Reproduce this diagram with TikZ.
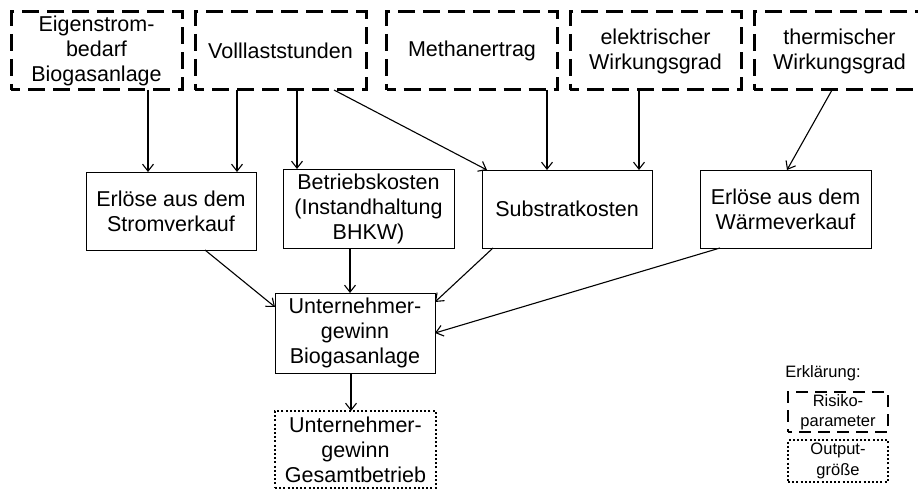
\documentclass[tikz,border=0pt]{standalone}
\usepackage{fontspec}
\setmainfont{Liberation Sans}
\usetikzlibrary{arrows.meta}
\begin{document}
\begin{tikzpicture}[x=1pt,y=-1pt,
  box/.style={draw, line width=0.9pt, rectangle, inner sep=0pt, outer sep=0pt,
    align=center, font=\fontsize{21.5}{25}\selectfont},
  riskbox/.style={box, line width=3pt, dash pattern=on 17pt off 8pt, dash phase=8pt},
  outbox/.style={box, line width=2.4pt, dash pattern=on 2pt off 2.2pt},
  legrisk/.style={riskbox, line width=2.6pt, dash pattern=on 12pt off 7pt, font=\fontsize{16.5}{20.5}\selectfont},
  legout/.style={outbox, font=\fontsize{16.5}{20.5}\selectfont},
  arr/.style={draw, line width=1.1pt, -{Straight Barb[length=7pt,width=11pt]}}
]
\useasboundingbox (0,0) rectangle (918,489);

% risk parameters (top row)
\node[riskbox, minimum width=171pt, minimum height=78pt] (eig)   at (96.5,51)  {Eigenstrom-\\bedarf\\Biogasanlage};
\node[riskbox, minimum width=171pt, minimum height=78pt] (voll)  at (280.5,51) {Volllaststunden};
\node[riskbox, minimum width=171pt, minimum height=78pt] (meth)  at (472,51)   {Methanertrag};
\node[riskbox, minimum width=171pt, minimum height=78pt] (elek)  at (655.5,51) {elektrischer\\Wirkungsgrad};
\node[riskbox, minimum width=171pt, minimum height=78pt] (therm) at (839.5,51) {thermischer\\Wirkungsgrad};

% intermediate quantities
\node[box, minimum width=170pt, minimum height=78pt] (strom)  at (171,211)   {Erlöse aus dem\\Stromverkauf};
\node[box, minimum width=171pt, minimum height=79pt] (betr)   at (368.5,208.5) {Betriebskosten\\(Instandhaltung\\BHKW)};
\node[box, minimum width=170pt, minimum height=78pt] (subst)  at (567,209)   {Substratkosten};
\node[box, minimum width=171pt, minimum height=78pt] (waerme) at (785.5,209) {Erlöse aus dem\\Wärmeverkauf};

% profit
\node[box, minimum width=160pt, minimum height=80pt] (ugb) at (355,333) {Unternehmer-\\gewinn\\Biogasanlage};
\node[outbox, minimum width=161pt, minimum height=77pt] (ugg) at (355.5,449.5) {Unternehmer-\\gewinn\\Gesamtbetrieb};

% legend
\node[font=\fontsize{16.5}{20.5}\selectfont] (legtitle) at (823,373) {Erklärung:};
\node[legrisk, minimum width=100pt, minimum height=40pt] (legr) at (838,412) {Risiko-\\parameter};
\node[legout, minimum width=100pt, minimum height=42pt] (lego) at (838,461) {Output-\\größe};

% influences
\draw[arr] ([xshift=51.5pt]eig.south)  -- ([xshift=-23pt]strom.north);
\draw[arr] ([xshift=-43.5pt]voll.south) -- ([xshift=66pt]strom.north);
\draw[arr] ([xshift=16.5pt]voll.south)  -- ([xshift=-71.5pt]betr.north);
\draw[arr] ([xshift=53.5pt]voll.south)  -- ([xshift=-80pt]subst.north);
\draw[arr] ([xshift=75pt]meth.south)    -- ([xshift=-20pt]subst.north);
\draw[arr] ([xshift=-16.5pt]elek.south) -- ([xshift=72pt]subst.north);
\draw[arr] ([xshift=-7.5pt]therm.south) -- ([xshift=1.5pt]waerme.north);

\draw[arr] ([xshift=34pt]strom.south)   -- ([yshift=26pt]ugb.west);
\draw[arr] ([xshift=-18.5pt]betr.south) -- ([xshift=-5pt]ugb.north);
\draw[arr] ([xshift=-74pt]subst.south)  -- ([yshift=31pt]ugb.east);
\draw[arr] ([xshift=-65.5pt]waerme.south) -- (ugb.east);
\draw[arr] ([xshift=-4pt]ugb.south)     -- ([xshift=-4.5pt]ugg.north);
\end{tikzpicture}
\end{document}
